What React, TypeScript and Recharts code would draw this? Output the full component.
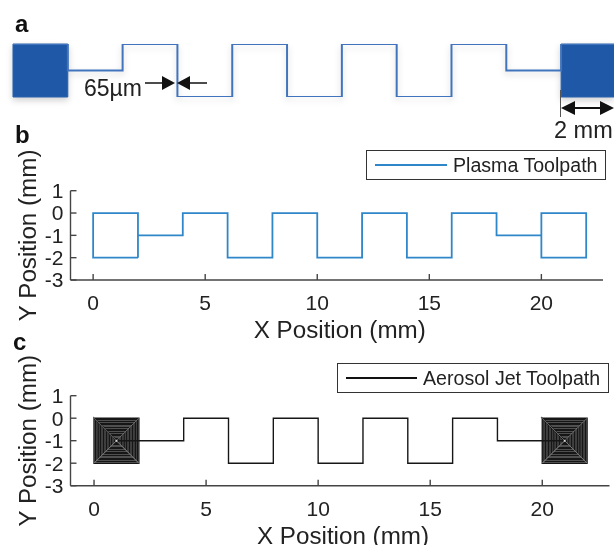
import React from "react";
import { LineChart, Line, XAxis, YAxis, ReferenceArea, Legend } from "recharts";

const traceX = [0, 2, 2, 4, 4, 6, 6, 8, 8, 10, 10, 12, 12, 14, 14, 16, 16, 18, 18, 20, 20, 22];
const traceY = [0, 0, -1, -1, 0, 0, -2, -2, 0, 0, -2, -2, 0, 0, -2, -2, 0, 0, -1, -1, 0, 0];

const plasmaX = [2, 0, 0, 2, 2, 2, 4, 4, 6, 6, 8, 8, 10, 10, 12, 12, 14, 14, 16, 16, 18, 18, 20, 20, 22, 22, 20, 20];
const plasmaY = [-2, -2, 0, 0, -2, -1, -1, 0, 0, -2, -2, 0, 0, -2, -2, 0, 0, -2, -2, 0, 0, -1, -1, 0, 0, -2, -2, 0];

const meanderX = [1, 4, 4, 6, 6, 8, 8, 10, 10, 12, 12, 14, 14, 16, 16, 18, 18, 21];
const meanderY = [-1, -1, 0, 0, -2, -2, 0, 0, -2, -2, 0, 0, -2, -2, 0, 0, -1, -1];

const ringInsets = [0, 0.07, 0.14, 0.21, 0.28, 0.35, 0.42, 0.49, 0.56, 0.63, 0.7, 0.77, 0.84, 0.91, 0.97];
const padLeft = [0, 20];
const diagX = [0, 2, 1, 0, 2];
const diagY = [0, -2, -1, -2, 0];
const centreX = [1, 21];
const centreY = [-1, -1];

const xTicks = [0, 5, 10, 15, 20];
const yTicks = [1, 0, -1, -2, -3];
const plasmaName = "Plasma Toolpath";
const aerosolName = "Aerosol Jet Toolpath";
const xTitle = "X Position (mm)";
const yTitle = "Y Position (mm)";
const padRects = [
  { x1: 0, x2: 2 },
  { x1: 20, x2: 22 },
];

const zip = (xs: number[], ys: number[]) => xs.map((x, i) => ({ x, y: ys[i] }));

const ringPath = (left: number) =>
  ringInsets.flatMap((d) => [
    { x: left + d, y: -d },
    { x: left + 2 - d, y: -d },
    { x: left + 2 - d, y: -2 + d },
    { x: left + d, y: -2 + d },
    { x: left + d, y: -d },
  ]);

const font = "'Liberation Sans', Arial, sans-serif";
const ink = "#222";

function LegendBox({ name, color, w, h, lineW }: any) {
  return (
    <div
      style={{
        width: w,
        height: h,
        boxSizing: "border-box",
        border: "1px solid #333",
        background: "#fff",
        display: "flex",
        alignItems: "center",
        paddingLeft: 8,
        fontFamily: font,
        fontSize: 19.6,
        color: ink,
        whiteSpace: "nowrap",
      }}
    >
      <span style={{ display: "inline-block", width: lineW, height: 0, borderTop: `2px solid ${color}`, marginRight: 6 }} />
      {name}
    </div>
  );
}

function Plot({ top, height, plotTop, plotBottom, domain, width, lines, legend, tickMargin, titleOffset }: any) {
  return (
    <div style={{ position: "absolute", left: 0, top }}>
      <LineChart
        width={614}
        height={height}
        margin={{ top: plotTop - top, bottom: 0, left: 0, right: 614 - width }}
      >
        <XAxis
          type="number"
          dataKey="x"
          domain={domain}
          ticks={xTicks}
          allowDataOverflow
          tickSize={-6}
          tickMargin={tickMargin}
          height={top + height - plotBottom}
          interval={0}
          axisLine={{ stroke: "#444", strokeWidth: 1.4 }}
          tickLine={{ stroke: "#444", strokeWidth: 1.4 }}
          tick={{ fill: ink, fontSize: 21, fontFamily: font }}
          label={{ value: xTitle, position: "insideBottom", offset: titleOffset, dx: 3, fill: ink, fontSize: 24.2, fontFamily: font }}
        />
        <YAxis
          type="number"
          dataKey="y"
          domain={[-3, 1]}
          ticks={yTicks}
          allowDataOverflow
          width={70.5}
          interval={0}
          tickSize={-6}
          tickMargin={13}
          axisLine={{ stroke: "#444", strokeWidth: 1.4 }}
          tickLine={{ stroke: "#444", strokeWidth: 1.4 }}
          tick={{ fill: ink, fontSize: 21, fontFamily: font }}
          label={{
            value: yTitle,
            angle: -90,
            position: "insideLeft",
            fill: ink,
            fontSize: 24.2,
            fontFamily: font,
            offset: 0,
            style: { textAnchor: "middle" },
            dx: 27,
          }}
        />
        <Legend content={() => legend} wrapperStyle={{ position: "absolute", left: 0, top: 0, width: 614, height: 0 }} />
        {lines}
      </LineChart>
    </div>
  );
}

export default function App() {
  const plasmaData = zip(plasmaX, plasmaY);
  const aerosolData = [...ringPath(padLeft[0]), ...zip(meanderX, meanderY), ...ringPath(padLeft[1])];
  const diag1 = zip(diagX, diagY);
  const diag2 = diag1.map((p) => ({ x: p.x + padLeft[1], y: p.y }));
  const centres = zip(centreX, centreY);

  return (
    <div style={{ position: "absolute", left: 0, top: 0, width: 614, height: 545, background: "#fff", overflow: "hidden", filter: "blur(0.35px)" }}>
      {/* panel a: the printed trace, same millimetre data at a larger scale */}
      <div style={{ position: "absolute", left: 0, top: 0, filter: "drop-shadow(0 3px 3px rgba(0,0,0,0.18))" }}>
        <LineChart width={614} height={130} data={zip(traceX, traceY)} margin={{ top: 44, bottom: 33, left: 0, right: 0 }}>
          <XAxis type="number" dataKey="x" domain={[-0.474, 21.93]} hide allowDataOverflow />
          <YAxis type="number" dataKey="y" domain={[-2, 0]} hide allowDataOverflow />
          {padRects.map((r) => (
            <ReferenceArea key={r.x1} x1={r.x1} x2={r.x2} y1={-2} y2={0} fill="#1f58a6" fillOpacity={1} stroke="#2a62ad" ifOverflow="visible" />
          ))}
          <Line dataKey="y" stroke="#4274bd" strokeWidth={2} dot={false} isAnimationActive={false} type="linear" />
        </LineChart>
      </div>

      <Plot
        top={120}
        height={240}
        plotTop={190.7}
        plotBottom={280}
        domain={[-1.01, 22.75]}
        width={603}
        tickMargin={21}
        titleOffset={22}
        legend={
          <div style={{ position: "absolute", left: 366, top: 30 }}>
            <LegendBox name={plasmaName} color="#2f86c9" w={240} h={30} lineW={72} />
          </div>
        }
        lines={[
          <Line key="p" name={plasmaName} data={plasmaData} dataKey="y" stroke="#2f86c9" strokeWidth={1.8} dot={false} isAnimationActive={false} type="linear" />,
        ]}
      />

      <Plot
        top={335}
        height={222}
        plotTop={395.7}
        plotBottom={485.7}
        domain={[-1.05, 23]}
        width={609.5}
        tickMargin={21}
        titleOffset={13}
        legend={
          <div style={{ position: "absolute", left: 337, top: 28 }}>
            <LegendBox name={aerosolName} color="#111" w={272} h={30} lineW={71} />
          </div>
        }
        lines={[
          <Line key="a" name={aerosolName} data={aerosolData} dataKey="y" stroke="#161616" strokeWidth={1.4} dot={false} isAnimationActive={false} type="linear" />,
          <Line key="d1" data={diag1} dataKey="y" stroke="#7a7a7a" strokeWidth={0.8} dot={false} isAnimationActive={false} type="linear" />,
          <Line key="d2" data={diag2} dataKey="y" stroke="#7a7a7a" strokeWidth={0.8} dot={false} isAnimationActive={false} type="linear" />,
          <Line key="c" data={centres} dataKey="y" stroke="none" dot={{ r: 1, fill: "#ddd", stroke: "none" }} isAnimationActive={false} type="linear" />,
        ]}
      />

      {/* annotations */}
      <svg width={614} height={545} style={{ position: "absolute", left: 0, top: 0, pointerEvents: "none" }}>
        <g fontFamily={font} fill="#111">
          <text x={15} y={32} fontSize={24} fontWeight="bold">a</text>
          <text x={15} y={143} fontSize={24} fontWeight="bold">b</text>
          <text x={13} y={350} fontSize={24} fontWeight="bold">c</text>
          <text x={84} y={96} fontSize={23} fill={ink}>65µm</text>
          <text x={554} y={138} fontSize={23.5} fill={ink}>2 mm</text>
          <line x1={145} y1={83} x2={163} y2={83} stroke="#111" strokeWidth={1.5} />
          <polygon points="162,76 162,90 175,83" />
          <polygon points="190,76 190,90 177,83" />
          <line x1={189} y1={83} x2={207} y2={83} stroke="#111" strokeWidth={1.5} />
          <line x1={560.5} y1={90} x2={560.5} y2={117} stroke="#555" strokeWidth={1} />
          <line x1={570} y1={108} x2={606} y2={108} stroke="#111" strokeWidth={2} />
          <polygon points="561,108 575,101 575,115" />
          <polygon points="614,108 600,101 600,115" />
        </g>
      </svg>
    </div>
  );
}
